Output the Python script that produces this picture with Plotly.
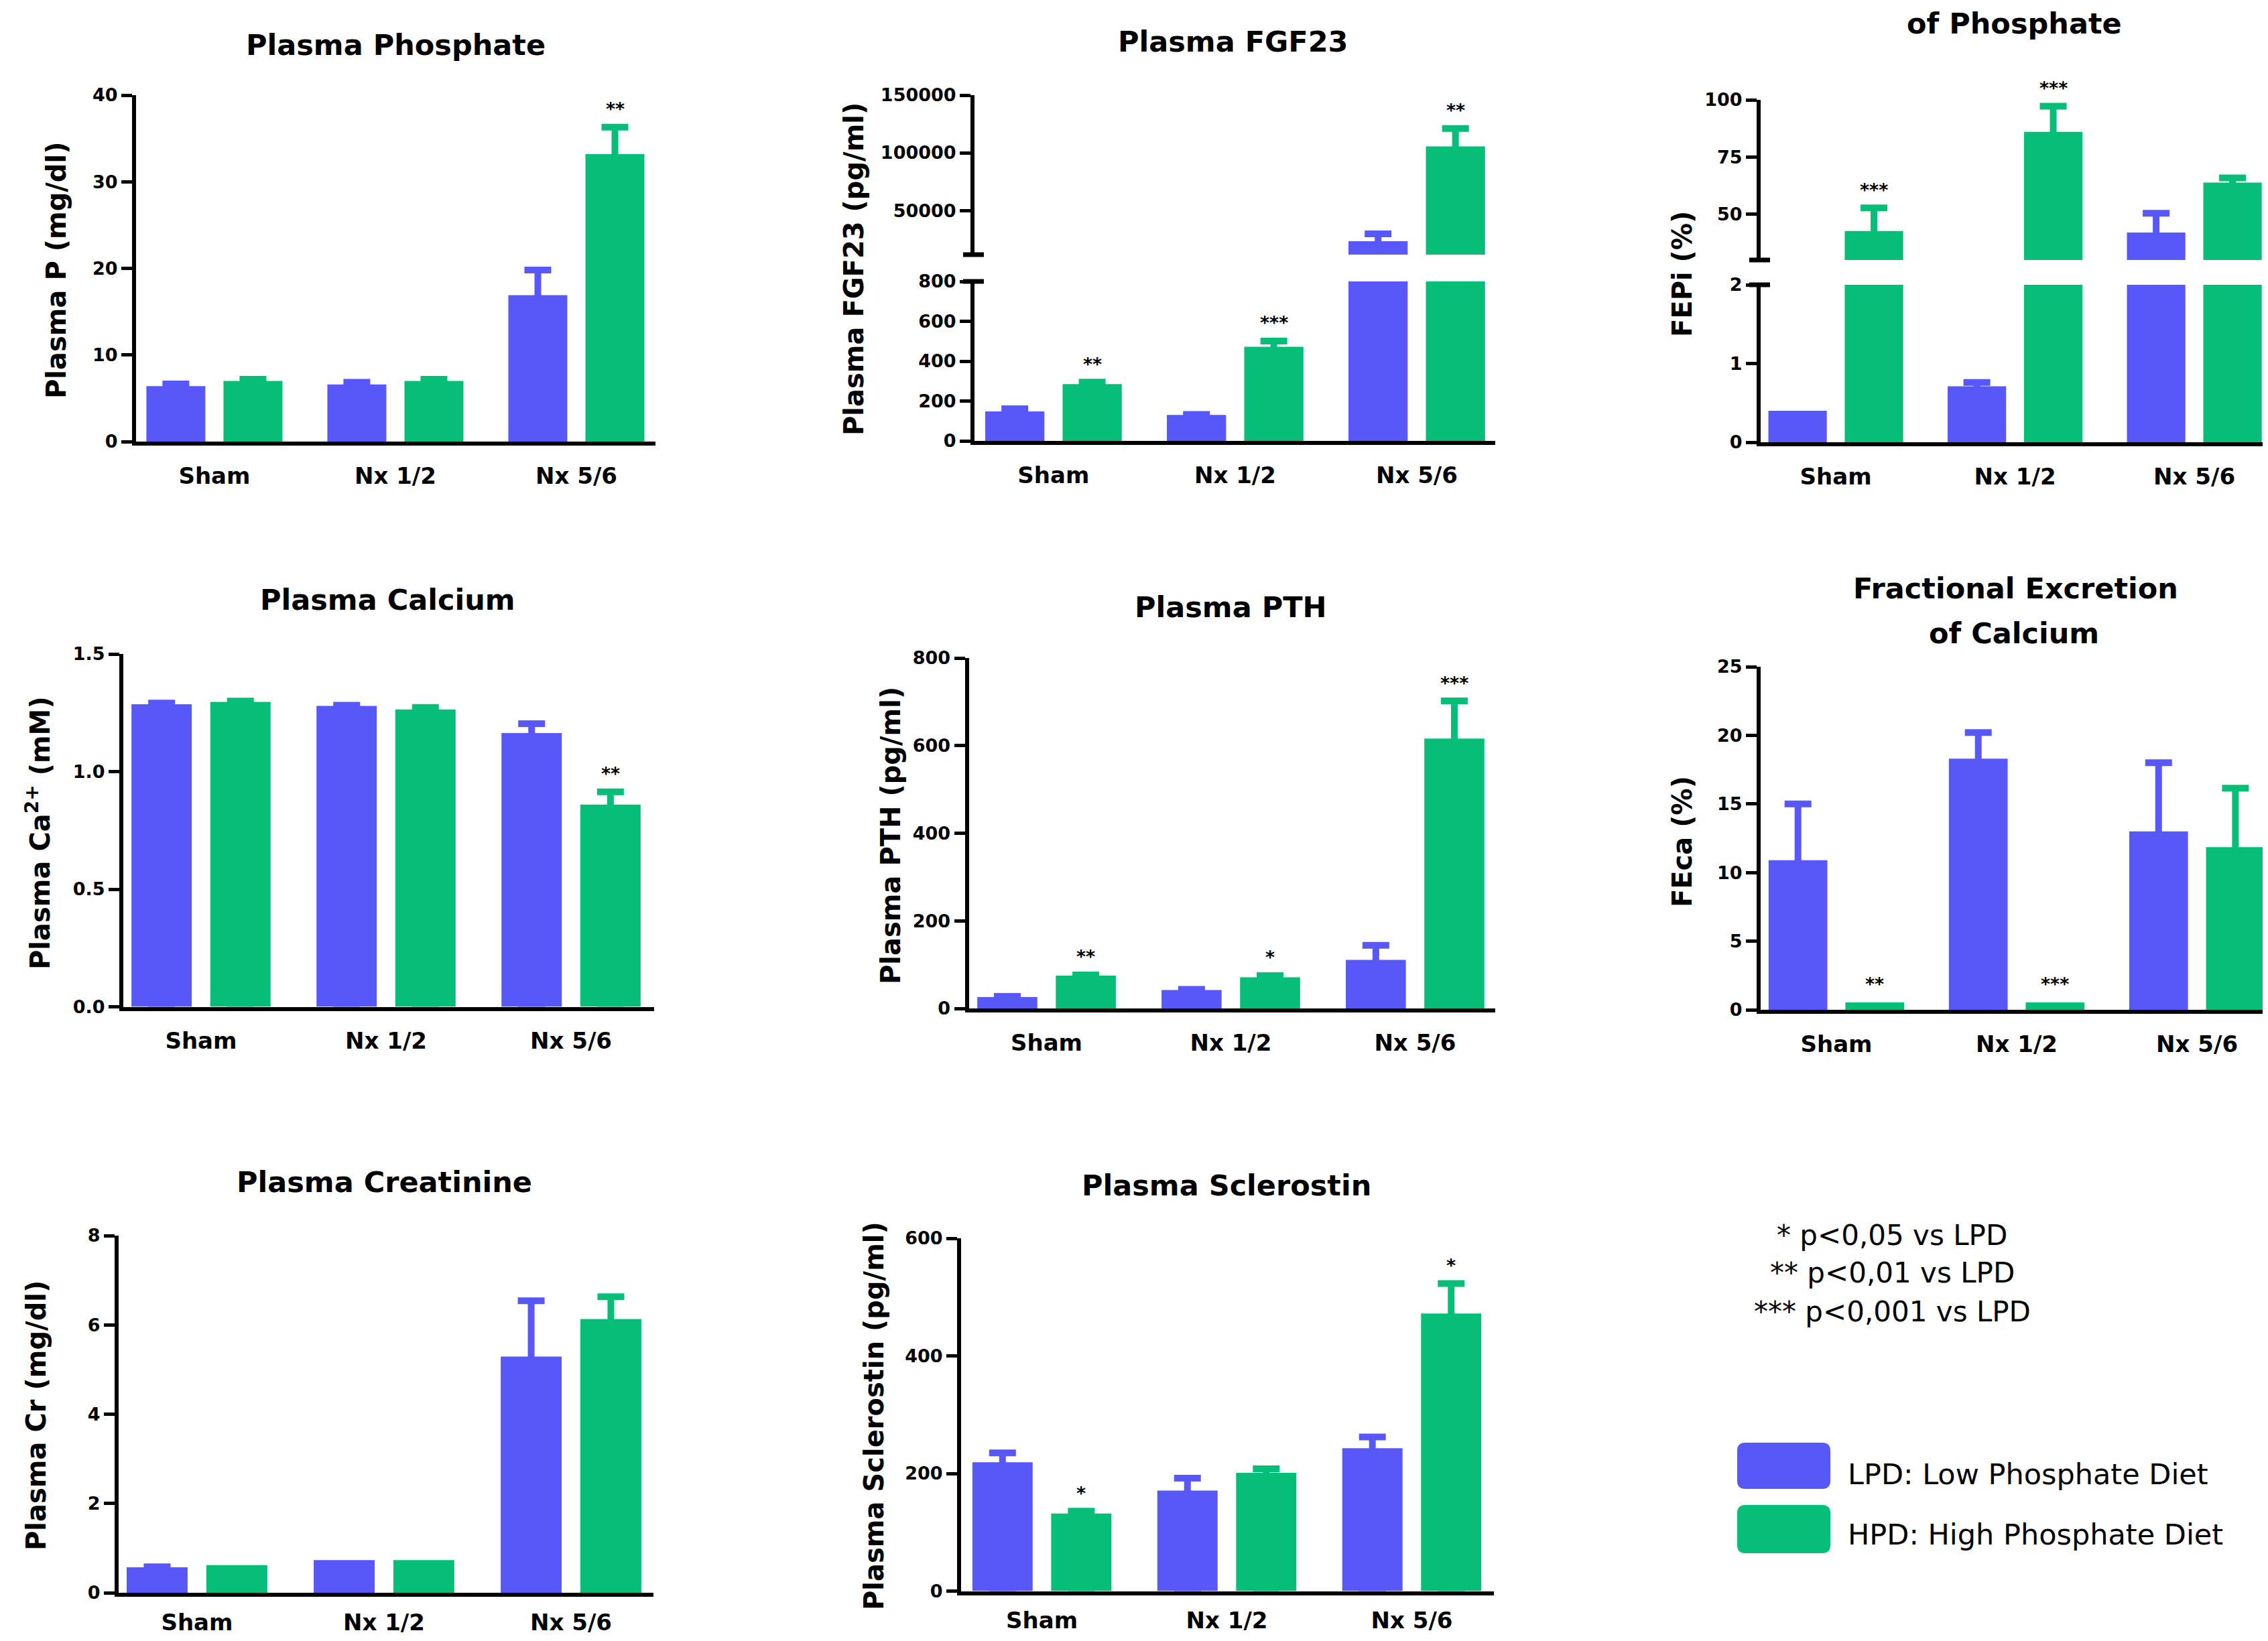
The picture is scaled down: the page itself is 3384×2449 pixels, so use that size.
import plotly.graph_objects as go

# ---------------- data ----------------
categories = ["Sham", "Nx 1/2", "Nx 5/6"]
series_names = ["LPD", "HPD"]

phos_lpd = [6.4, 6.6, 16.9]
phos_lpd_err = [0.25, 0.25, 2.9]
phos_hpd = [7.0, 7.0, 33.2]
phos_hpd_err = [0.2, 0.2, 3.1]
phos_hpd_sig = ["", "", "**"]
phos_ticks = [0, 10, 20, 30, 40]

fgf_lpd = [148, 130, 23300]
fgf_lpd_err = [13, 3, 6400]
fgf_hpd = [285, 472, 105600]
fgf_hpd_err = [10, 29, 15500]
fgf_hpd_sig = ["**", "***", "**"]
fgf_ticks_low = [0, 200, 400, 600, 800]
fgf_ticks_high = [50000, 100000, 150000]

fepi_lpd = [0.40, 0.71, 42.0]
fepi_lpd_err = [0, 0.05, 8.4]
fepi_hpd = [42.7, 86.0, 63.8]
fepi_hpd_err = [10.1, 11.2, 2.1]
fepi_hpd_sig = ["***", "***", ""]
fepi_ticks_low = [0, 1, 2]
fepi_ticks_high = [50, 75, 100]

ca_lpd = [1.286, 1.279, 1.164]
ca_lpd_err = [0.005, 0.003, 0.040]
ca_hpd = [1.296, 1.264, 0.860]
ca_hpd_err = [0.004, 0.009, 0.054]
ca_hpd_sig = ["", "", "**"]
ca_ticks = [0, 0.5, 1.0, 1.5]
ca_ticktext = ["0.0", "0.5", "1.0", "1.5"]

pth_lpd = [26, 42, 111]
pth_lpd_err = [1.5, 1.5, 33]
pth_hpd = [75, 71, 616]
pth_hpd_err = [1.5, 4, 86]
pth_hpd_sig = ["**", "*", "***"]
pth_ticks = [0, 200, 400, 600, 800]

feca_lpd = [10.9, 18.3, 13.0]
feca_lpd_err = [4.1, 1.9, 5.0]
feca_hpd = [0.54, 0.54, 11.85]
feca_hpd_err = [0, 0, 4.3]
feca_hpd_sig = ["**", "***", ""]
feca_ticks = [0, 5, 10, 15, 20, 25]

cr_lpd = [0.57, 0.73, 5.29]
cr_lpd_err = [0.01, 0, 1.25]
cr_hpd = [0.62, 0.73, 6.13]
cr_hpd_err = [0, 0, 0.5]
cr_hpd_sig = ["", "", ""]
cr_ticks = [0, 2, 4, 6, 8]

scl_lpd = [219, 171, 243]
scl_lpd_err = [16, 21, 19]
scl_hpd = [132, 201, 472]
scl_hpd_err = [4, 7, 51]
scl_hpd_sig = ["*", "", "*"]
scl_ticks = [0, 200, 400, 600]

sig_notes = ["* p<0,05 vs LPD", "** p<0,01 vs LPD", "*** p<0,001 vs LPD"]
legend_labels = ["LPD: Low Phosphate Diet", "HPD: High Phosphate Diet"]

# ---------------- styling / layout ----------------
W, H, OFF = 3368, 2433, 8
FONT = "DejaVu Sans"
C_LPD = "#5857F7"
C_HPD = "#07BE78"
COLORS = [C_LPD, C_HPD]
BARGAP = 0.148
BARGROUPGAP = 0.235
SLOT_OFFSETS = [-(1 - BARGAP) / 4, (1 - BARGAP) / 4]   # centres of the two grouped bars

Y_STYLE = dict(showline=True, linewidth=6, linecolor="black", ticks="outside",
               ticklen=16, tickwidth=5, tickcolor="black", showgrid=False,
               zeroline=False, fixedrange=True, automargin=False,
               tickfont=dict(family=FONT, size=27, color="black", weight="bold"))
X_STYLE = dict(showline=True, linewidth=6, linecolor="black", ticks="",
               showgrid=False, zeroline=False, fixedrange=True, automargin=False,
               tickfont=dict(family=FONT, size=34, color="black", weight="bold"))


def fx(p):
    return (p - OFF) / W


def fy(p):
    return 1 - (p - OFF) / H


fig = go.Figure()
layout = {}
annotations = []
shapes = []
counters = {"x": 0, "y": 0}


def next_axis(kind):
    counters[kind] += 1
    n = counters[kind]
    suffix = "" if n == 1 else str(n)
    return kind + suffix, kind + "axis" + suffix


def add_panel(titles, ytitle, lpd, lpd_err, hpd, hpd_err, hpd_sig, frame, segments):
    xref, xkey = next_axis("x")
    yrefs = []
    for seg in segments:
        yref, ykey = next_axis("y")
        yrefs.append(yref)
        ticktext = seg.get("ticktext") or [str(v) for v in seg["ticks"]]
        layout[ykey] = dict(domain=[fy(seg["bottom"]), fy(seg["top"])], range=seg["range"],
                            tickmode="array", tickvals=seg["ticks"], ticktext=ticktext,
                            anchor=xref, **Y_STYLE)
    layout[xkey] = dict(domain=[fx(frame["x0"]), min(1.0, fx(frame["x1"]))],
                        range=frame["xrange"], anchor=yrefs[0], type="linear",
                        tickmode="array", tickvals=list(range(len(categories))),
                        ticktext=categories, ticklabelstandoff=frame.get("standoff", 16),
                        **X_STYLE)
    for yref in yrefs:
        for name, vals, color in zip(series_names, [lpd, hpd], COLORS):
            fig.add_trace(go.Bar(
                x=list(range(len(categories))), y=vals, name=name, xaxis=xref, yaxis=yref,
                offsetgroup=name, marker=dict(color=color, line=dict(width=0)),
                showlegend=False, hoverinfo="skip"))
        # SEM error bars (only where an error is visible)
        for name, vals, errs, color, off in zip(series_names, [lpd, hpd], [lpd_err, hpd_err],
                                                COLORS, SLOT_OFFSETS):
            idx = [i for i, e in enumerate(errs) if e > 0]
            fig.add_trace(go.Scatter(
                x=[i + off for i in idx], y=[vals[i] for i in idx], xaxis=xref, yaxis=yref,
                mode="markers", marker=dict(size=1, opacity=0), name=name + " SEM",
                error_y=dict(type="data", symmetric=False, array=[errs[i] for i in idx],
                             arrayminus=[vals[i] for i in idx],
                             color=color, thickness=10, width=20),
                showlegend=False, hoverinfo="skip"))
    # significance stars above HPD bars
    for i, s in enumerate(hpd_sig):
        if not s:
            continue
        top = hpd[i] + hpd_err[i]
        yref = yrefs[0]
        if len(segments) > 1 and top > segments[0]["range"][1]:
            yref = yrefs[1]
        annotations.append(dict(x=i + SLOT_OFFSETS[1], y=top, xref=xref, yref=yref, text=s,
                                showarrow=False, yanchor="middle", yshift=27,
                                font=dict(family=FONT, size=27, color="black", weight="bold")))
    # titles
    for (t, cx, cy) in titles:
        annotations.append(dict(x=fx(cx), y=fy(cy), xref="paper", yref="paper", text=t,
                                showarrow=False, xanchor="center", yanchor="middle",
                                font=dict(family=FONT, size=43, color="black", weight="bold")))
    t, cx, cy = ytitle
    annotations.append(dict(x=fx(cx), y=fy(cy), xref="paper", yref="paper", text=t,
                            showarrow=False, textangle=-90, xanchor="center", yanchor="middle",
                            font=dict(family=FONT, size=40, color="black", weight="bold")))
    # broken-axis marks
    if len(segments) > 1:
        ax = frame["x0"]
        for yy in (segments[0]["top"], segments[1]["bottom"]):
            shapes.append(dict(type="line", xref="paper", yref="paper",
                               x0=fx(ax - 17), x1=fx(ax + 14), y0=fy(yy), y1=fy(yy),
                               line=dict(color="black", width=7)))


add_panel([("Plasma Phosphate", 590, 67)], ("Plasma P (mg/dl)", 84, 403),
          phos_lpd, phos_lpd_err, phos_hpd, phos_hpd_err, phos_hpd_sig,
          dict(x0=203, x1=978, xrange=[-0.433, 2.437]),
          [dict(top=142, bottom=659, range=[0, 40], ticks=phos_ticks)])

add_panel([("Plasma FGF23", 1840, 62)], ("Plasma FGF23 (pg/ml)", 1274, 402),
          fgf_lpd, fgf_lpd_err, fgf_hpd, fgf_hpd_err, fgf_hpd_sig,
          dict(x0=1454, x1=2231, xrange=[-0.435, 2.432]),
          [dict(top=420, bottom=658, range=[0, 800], ticks=fgf_ticks_low),
           dict(top=142, bottom=380, range=[11700, 150000], ticks=fgf_ticks_high)])

add_panel([("of Phosphate", 3005, 35)], ("FEPi (%)", 2510, 409),
          fepi_lpd, fepi_lpd_err, fepi_hpd, fepi_hpd_err, fepi_hpd_sig,
          dict(x0=2627, x1=3376, xrange=[-0.419, 2.381]),
          [dict(top=425, bottom=660, range=[0, 2], ticks=fepi_ticks_low),
           dict(top=149, bottom=388, range=[30, 100], ticks=fepi_ticks_high)])

add_panel([("Plasma Calcium", 578, 895)], ("Plasma Ca<sup>2+</sup> (mM)", 57, 1243),
          ca_lpd, ca_lpd_err, ca_hpd, ca_hpd_err, ca_hpd_sig,
          dict(x0=184, x1=976, xrange=[-0.42, 2.449]),
          [dict(top=976, bottom=1502.5, range=[0, 1.5], ticks=ca_ticks, ticktext=ca_ticktext)])

add_panel([("Plasma PTH", 1836, 906)], ("Plasma PTH (pg/ml)", 1329, 1247),
          pth_lpd, pth_lpd_err, pth_hpd, pth_hpd_err, pth_hpd_sig,
          dict(x0=1445.5, x1=2231, xrange=[-0.422, 2.435]),
          [dict(top=982, bottom=1505, range=[0, 800], ticks=pth_ticks)])

add_panel([("Fractional Excretion", 3007, 878), ("of Calcium", 3005, 945)], ("FEca (%)", 2510, 1256),
          feca_lpd, feca_lpd_err, feca_hpd, feca_hpd_err, feca_hpd_sig,
          dict(x0=2627, x1=3376, xrange=[-0.42, 2.364]),
          [dict(top=995, bottom=1507, range=[0, 25], ticks=feca_ticks)])

add_panel([("Plasma Creatinine", 573, 1764)], ("Plasma Cr (mg/dl)", 54, 2113),
          cr_lpd, cr_lpd_err, cr_hpd, cr_hpd_err, cr_hpd_sig,
          dict(x0=177, x1=974.5, xrange=[-0.419, 2.439], standoff=9),
          [dict(top=1844, bottom=2377, range=[0, 8], ticks=cr_ticks)])

add_panel([("Plasma Sclerostin", 1830, 1769)], ("Plasma Sclerostin (pg/ml)", 1304, 2113),
          scl_lpd, scl_lpd_err, scl_hpd, scl_hpd_err, scl_hpd_sig,
          dict(x0=1434, x1=2229, xrange=[-0.437, 2.444], standoff=9),
          [dict(top=1848, bottom=2374.5, range=[0, 600], ticks=scl_ticks)])

# significance notes
for note, cy in zip(sig_notes, [1843, 1899, 1958]):
    annotations.append(dict(x=fx(2823), y=fy(cy), xref="paper", yref="paper", text=note,
                            showarrow=False, xanchor="center", yanchor="middle",
                            font=dict(family=FONT, size=42, color="black")))


def rounded_rect_path(x0, y0, x1, y1, r):
    X0, X1, Y0, Y1 = fx(x0), fx(x1), fy(y0), fy(y1)
    rx, ry = r / W, r / H
    return (f"M {X0 + rx},{Y0} L {X1 - rx},{Y0} Q {X1},{Y0} {X1},{Y0 - ry} "
            f"L {X1},{Y1 + ry} Q {X1},{Y1} {X1 - rx},{Y1} "
            f"L {X0 + rx},{Y1} Q {X0},{Y1} {X0},{Y1 + ry} "
            f"L {X0},{Y0 - ry} Q {X0},{Y0} {X0 + rx},{Y0} Z")


for label, color, (by0, by1), ty in zip(legend_labels, COLORS,
                                         [(2153, 2222), (2246, 2318)], [2200, 2290]):
    shapes.append(dict(type="path", xref="paper", yref="paper",
                       path=rounded_rect_path(2592, by0, 2731, by1, 12),
                       fillcolor=color, line=dict(width=0)))
    annotations.append(dict(x=fx(2755), y=fy(ty), xref="paper", yref="paper", text=label,
                            showarrow=False, xanchor="left", yanchor="middle",
                            font=dict(family=FONT, size=43, color="black")))

fig.update_layout(
    width=W, height=H, margin=dict(l=0, r=0, t=0, b=0, pad=0, autoexpand=False),
    paper_bgcolor="white", plot_bgcolor="white",
    barmode="group", bargap=BARGAP, bargroupgap=BARGROUPGAP,
    showlegend=False, font=dict(family=FONT, color="black"),
    annotations=annotations, shapes=shapes, **layout)

fig.write_html("out.html")
